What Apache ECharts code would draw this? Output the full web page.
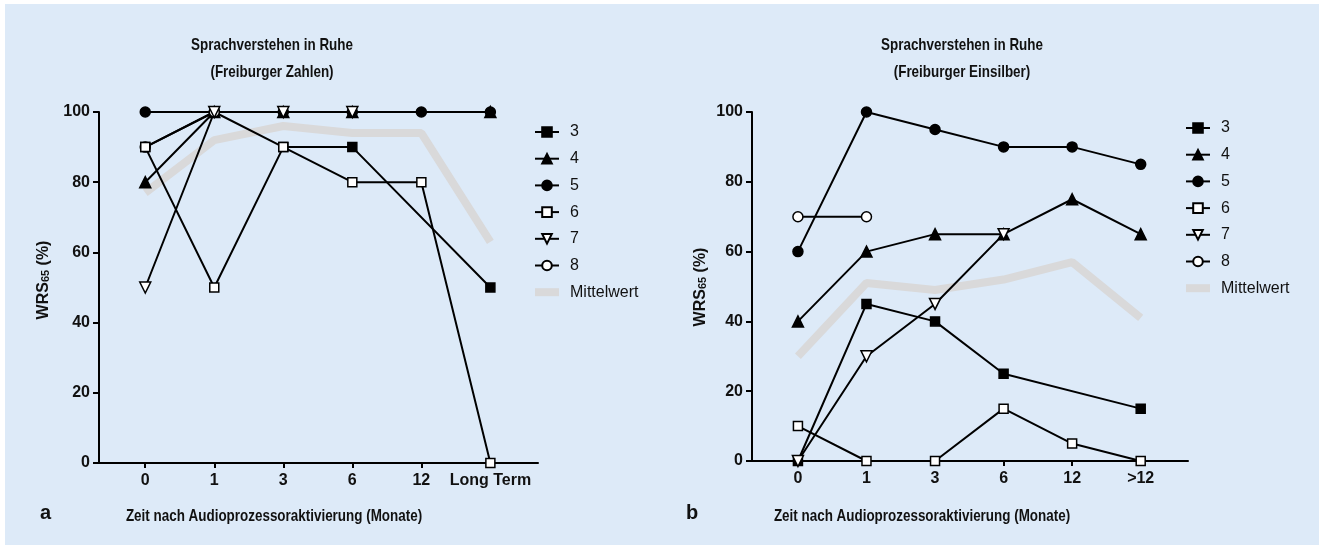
<!DOCTYPE html>
<html>
<head>
<meta charset="utf-8">
<script src="https://cdn.jsdelivr.net/npm/echarts@6/dist/echarts.min.js"></script>
<style>
  html, body { margin: 0; padding: 0; background: #fff; }
  #chart { width: 1319px; height: 546px; }
</style>
</head>
<body>
<div id="chart"></div>
<script>
// categories
const xLabelsA = ['0', '1', '3', '6', '12', 'Long Term'];
const xLabelsB = ['0', '1', '3', '6', '12', '>12'];

// panel a: Freiburger Zahlen
const aS3 = [90, 100, 90, 90, null, 50];
const aS4 = [80, 100, 100, 100, null, 100];
const aS5 = [100, 100, 100, 100, 100, 100];
const aS6 = [90, 50, 90, 80, 80, 0];
const aS7 = [50, 100, 100, 100, null, null];
const aS8 = [90, 100, null, null, null, null];
const aMean = [77, 92, 96, 94, 94, 63];

// panel b: Freiburger Einsilber
const bS3 = [0, 45, 40, 25, null, 15];
const bS4 = [40, 60, 65, 65, 75, 65];
const bS5 = [60, 100, 95, 90, 90, 85];
const bS6 = [10, 0, 0, 15, 5, 0];
const bS7 = [0, 30, 45, 65, null, null];
const bS8 = [70, 70, null, null, null, null];
const bMean = [30, 51, 49, 52, 57, 41];

const legendNames = ['3', '4', '5', '6', '7', '8', 'Mittelwert'];

const font = "'Liberation Sans', Arial, sans-serif";
const meanColor = '#d9d9da';

// turn a value array into [index, value] points, skipping gaps
const toPoints = (arr) => {
    let pts = [];
    for (let i = 0; i < arr.length; i++) {
        if (arr[i] !== null) pts.push([i, arr[i]]);
    }
    return pts;
}

const markers = {
    '3': { symbol: 'rect', symbolSize: 9, fill: '#000' },
    '4': { symbol: 'triangle', symbolSize: 11, fill: '#000' },
    '5': { symbol: 'circle', symbolSize: 10, fill: '#000' },
    '6': { symbol: 'rect', symbolSize: 9, fill: '#fff' },
    '7': { symbol: 'triangle', symbolSize: 11, fill: '#fff', rotate: 180 },
    '8': { symbol: 'circle', symbolSize: 10, fill: '#fff' }
};

const makeSeries = (name, arr, gi) => {
    let m = markers[name];
    return {
        name: name,
        type: 'line',
        xAxisIndex: gi,
        yAxisIndex: gi,
        data: toPoints(arr),
        symbol: m.symbol,
        symbolSize: m.symbolSize,
        symbolRotate: m.rotate || 0,
        showAllSymbol: true,
        animation: false,
        z: 3,
        lineStyle: { color: '#000', width: 2 },
        itemStyle: { color: m.fill, borderColor: '#000', borderWidth: 1.5, opacity: 1 }
    };
}

const makeMean = (arr, gi) => ({
    name: 'Mittelwert',
    type: 'line',
    xAxisIndex: gi,
    yAxisIndex: gi,
    data: toPoints(arr),
    symbol: 'none',
    animation: false,
    z: 1,
    lineStyle: { color: meanColor, width: 8 },
    itemStyle: { color: meanColor }
});

const xAxisFor = (labels, gi) => ({
    type: 'value',
    gridIndex: gi,
    min: -0.67,
    max: 5.69,
    splitLine: { show: false },
    axisLine: { show: true, onZero: false, lineStyle: { color: '#000', width: 2 } },
    axisTick: { show: true, customValues: [0, 1, 2, 3, 4, 5], length: 5, lineStyle: { color: '#000', width: 2 } },
    axisLabel: {
        customValues: [0, 1, 2, 3, 4, 5],
        formatter: (v) => labels[Math.round(v)],
        color: '#111', fontWeight: 'bold', fontSize: 16, fontFamily: font, margin: 10
    }
});

const yAxisFor = (gi) => ({
    type: 'value',
    gridIndex: gi,
    min: 0,
    max: 100,
    interval: 20,
    splitLine: { show: false },
    axisLine: { show: true, onZero: false, lineStyle: { color: '#000', width: 2 } },
    axisTick: { show: true, length: 6, lineStyle: { color: '#000', width: 2 } },
    axisLabel: { color: '#111', fontWeight: 'bold', fontSize: 16, fontFamily: font, margin: 9 }
});

const legendFor = (left, top) => ({
    orient: 'vertical',
    left: left,
    top: top,
    padding: 0,
    itemWidth: 24,
    itemHeight: 12,
    itemGap: 10.7,
    data: legendNames.map((n) => n === 'Mittelwert'
        ? { name: n, icon: 'path://M0,0 L24,0 L24,8 L0,8 Z', itemStyle: { color: meanColor } }
        : n),
    textStyle: { fontSize: 16, color: '#111', fontFamily: font, padding: [0, 0, 0, 6] },
    selectedMode: false
});

// narrow bold text (horizontally squeezed, the source uses a condensed face)
const narrowText = (x, y, txt) => ({
    type: 'text',
    x: x, y: y,
    scaleX: 0.79,
    style: { text: txt, fill: '#111', font: 'bold 17px ' + font, textAlign: 'center', lineHeight: 27 }
});

const yName = (x, y) => ({
    type: 'text',
    x: x, y: y,
    rotation: Math.PI / 2,
    style: {
        text: '{m|WRS}{s|65}{m| (%)}',
        rich: {
            m: { fontSize: 16, fontWeight: 'bold', fontFamily: font, fill: '#111', verticalAlign: 'bottom' },
            s: { fontSize: 11, fontWeight: 'bold', fontFamily: font, fill: '#111', padding: [6, 0, 0, 0], verticalAlign: 'bottom' }
        },
        textAlign: 'center', textVerticalAlign: 'middle'
    }
});

var dom = document.getElementById('chart');
var myChart = echarts.init(dom, null, { renderer: 'canvas' });

var option = {
    backgroundColor: '#fff',
    animation: false,
    graphic: [
        { type: 'rect', z: -10, shape: { x: 5, y: 4, width: 1314, height: 541 }, style: { fill: '#ddeaf8' } },
        narrowText(272, 32, 'Sprachverstehen in Ruhe\n(Freiburger Zahlen)'),
        narrowText(962, 32, 'Sprachverstehen in Ruhe\n(Freiburger Einsilber)'),
        yName(43, 280),
        yName(700, 287),
        narrowText(274, 503, 'Zeit nach Audioprozessoraktivierung (Monate)'),
        narrowText(922, 503, 'Zeit nach Audioprozessoraktivierung (Monate)'),
        { type: 'text', x: 40, y: 503, style: { text: 'a', fill: '#111', font: 'bold 20px ' + font } },
        { type: 'text', x: 686, y: 503, style: { text: 'b', fill: '#111', font: 'bold 20px ' + font } }
    ],
    grid: [
        { left: 99, top: 112, width: 439, height: 351 },
        { left: 752, top: 112, width: 436, height: 349 }
    ],
    xAxis: [xAxisFor(xLabelsA, 0), xAxisFor(xLabelsB, 1)],
    yAxis: [yAxisFor(0), yAxisFor(1)],
    legend: [legendFor(534, 124), legendFor(1185, 120)],
    series: [
        makeMean(aMean, 0),
        makeSeries('3', aS3, 0),
        makeSeries('4', aS4, 0),
        makeSeries('5', aS5, 0),
        makeSeries('8', aS8, 0),
        makeSeries('6', aS6, 0),
        makeSeries('7', aS7, 0),
        makeMean(bMean, 1),
        makeSeries('3', bS3, 1),
        makeSeries('4', bS4, 1),
        makeSeries('5', bS5, 1),
        makeSeries('6', bS6, 1),
        makeSeries('7', bS7, 1),
        makeSeries('8', bS8, 1)
    ]
};

myChart.setOption(option);
window.addEventListener('resize', myChart.resize);
</script>
</body>
</html>
